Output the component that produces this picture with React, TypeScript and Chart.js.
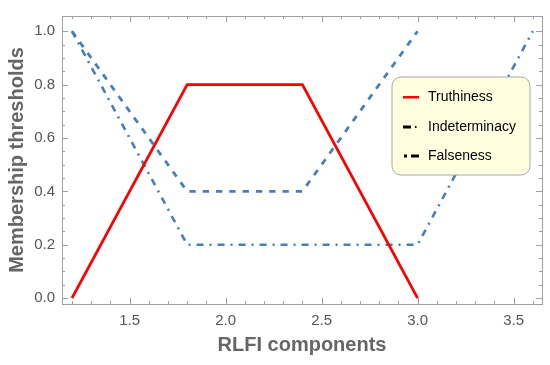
import React, { useEffect, useRef } from "react";
import { Chart, registerables } from "chart.js";

Chart.register(...registerables);

const xTruth = [1.2, 1.8, 2.4, 3.0];
const truthiness = [0, 0.8, 0.8, 0];
const xIndet = [1.2, 1.8, 2.4, 3.0];
const indeterminacy = [1.0, 0.4, 0.4, 1.0];
const xFalse = [1.2, 1.8, 3.0, 3.6];
const falseness = [1.0, 0.2, 0.2, 1.0];

const xTicks = [1.5, 2.0, 2.5, 3.0, 3.5];
const yTicks = [0, 0.2, 0.4, 0.6, 0.8, 1.0];
const seriesNames = ["Truthiness", "Indeterminacy", "Falseness"];

const X_MIN = 1.148;
const X_MAX = 3.648;
const Y_MIN = -0.022;
const Y_MAX = 1.057;

const BLUE = "#4a7ebb";
const FONT = "'Liberation Sans', Arial, sans-serif";

const pts = (xs: number[], ys: number[]) => xs.map((x, i) => ({ x, y: ys[i] }));

const framePlugin = {
  id: "frame",
  afterDraw(chart: any) {
    const { ctx, chartArea } = chart;
    const { left, right, top, bottom } = chartArea;
    const xs = chart.scales.x;
    const ys = chart.scales.y;
    ctx.save();
    ctx.strokeStyle = "#a0a0a0";
    ctx.lineWidth = 1;
    ctx.strokeRect(Math.round(left) + 0.5, Math.round(top) + 0.5, Math.round(right - left), Math.round(bottom - top));
    ctx.beginPath();
    for (let i = 12; i <= 36; i++) {
      const v = i / 10;
      if (v < X_MIN || v > X_MAX) continue;
      const major = i % 5 === 0;
      const len = major ? 6 : 3;
      const px = Math.round(xs.getPixelForValue(v)) + 0.5;
      ctx.moveTo(px, bottom);
      ctx.lineTo(px, bottom - len);
      ctx.moveTo(px, top);
      ctx.lineTo(px, top + len);
    }
    for (let i = 0; i <= 20; i++) {
      const v = i / 20;
      const major = i % 4 === 0;
      const len = major ? 6 : 3;
      const py = Math.round(ys.getPixelForValue(v)) + 0.5;
      ctx.moveTo(left, py);
      ctx.lineTo(left + len, py);
      ctx.moveTo(right, py);
      ctx.lineTo(right - len, py);
    }
    ctx.stroke();

    const bx = 392, by = 77, bw = 138, bh = 98, r = 9;
    ctx.beginPath();
    ctx.moveTo(bx + r, by);
    ctx.arcTo(bx + bw, by, bx + bw, by + bh, r);
    ctx.arcTo(bx + bw, by + bh, bx, by + bh, r);
    ctx.arcTo(bx, by + bh, bx, by, r);
    ctx.arcTo(bx, by, bx + bw, by, r);
    ctx.closePath();
    ctx.fillStyle = "#ffffe0";
    ctx.fill();
    ctx.strokeStyle = "#a8a8a8";
    ctx.lineWidth = 1;
    ctx.stroke();

    const rowsY = [97, 127, 156];
    ctx.fillStyle = "#ff0000";
    ctx.fillRect(403, rowsY[0] - 1, 16, 2.5);
    ctx.fillStyle = "#000000";
    ctx.fillRect(403, rowsY[1] - 1.5, 8, 3);
    ctx.fillRect(415, rowsY[1] - 1, 1.5, 2);
    ctx.fillRect(404, rowsY[2] - 1.5, 3, 3);
    ctx.fillRect(411, rowsY[2] - 1.5, 8, 3);

    ctx.fillStyle = "#000000";
    ctx.font = "14px " + FONT;
    ctx.textBaseline = "middle";
    ctx.textAlign = "left";
    seriesNames.forEach((n, i) => ctx.fillText(n, 428, rowsY[i]));
    ctx.restore();
  },
};

export default function App() {
  const ref = useRef<HTMLCanvasElement>(null);
  useEffect(() => {
    if (!ref.current) return;
    const chart = new Chart(ref.current, {
      type: "scatter",
      data: {
        datasets: [
          {
            label: seriesNames[0],
            data: pts(xTruth, truthiness),
            showLine: true,
            borderColor: "#ff0000",
            borderWidth: 2.8,
            pointRadius: 0,
            order: 0,
          },
          {
            label: seriesNames[1],
            data: pts(xIndet, indeterminacy),
            showLine: true,
            borderColor: BLUE,
            borderWidth: 2.8,
            borderDash: [6.3, 7],
            pointRadius: 0,
            order: 1,
          },
          {
            label: seriesNames[2],
            data: pts(xFalse, falseness),
            showLine: true,
            borderColor: BLUE,
            borderWidth: 2.6,
            borderDash: [7, 6, 2, 6],
            pointRadius: 0,
            order: 2,
          },
        ],
      },
      options: {
        responsive: false,
        maintainAspectRatio: false,
        animation: false,
        layout: { padding: { left: 0, top: 7, right: 8, bottom: 0 } },
        plugins: { legend: { display: false }, tooltip: { enabled: false } },
        scales: {
          x: {
            type: "linear",
            min: X_MIN,
            max: X_MAX,
            afterBuildTicks: (s: any) => {
              s.ticks = xTicks.map((v) => ({ value: v }));
            },
            afterFit: (s: any) => {
              s.height = 61;
            },
            grid: { display: false, drawTicks: false },
            border: { display: false },
            ticks: {
              padding: 8,
              color: "#555555",
              font: { family: FONT, size: 15 },
              callback: (v: any) => Number(v).toFixed(1),
              maxRotation: 0,
            },
            title: {
              display: true,
              text: "RLFI components",
              color: "#666666",
              font: { family: FONT, size: 20, weight: "bold" },
              padding: { top: 0, bottom: 8 },
            },
          },
          y: {
            type: "linear",
            min: Y_MIN,
            max: Y_MAX,
            afterBuildTicks: (s: any) => {
              s.ticks = yTicks.map((v) => ({ value: v }));
            },
            afterFit: (s: any) => {
              s.width = 62;
            },
            grid: { display: false, drawTicks: false },
            border: { display: false },
            ticks: {
              padding: 7,
              color: "#555555",
              font: { family: FONT, size: 15 },
              callback: (v: any) => Number(v).toFixed(1),
            },
            title: {
              display: true,
              text: "Membership thresholds",
              color: "#666666",
              font: { family: FONT, size: 20, weight: "bold" },
              padding: { top: 5, bottom: 0 },
            },
          },
        },
      },
      plugins: [framePlugin],
    });
    return () => chart.destroy();
  }, []);
  return (
    <div style={{ position: "fixed", left: 0, top: 0, width: 550, height: 365, background: "#ffffff" }}>
      <canvas ref={ref} width={550} height={365} style={{ display: "block", width: 550, height: 365 }} />
    </div>
  );
}
